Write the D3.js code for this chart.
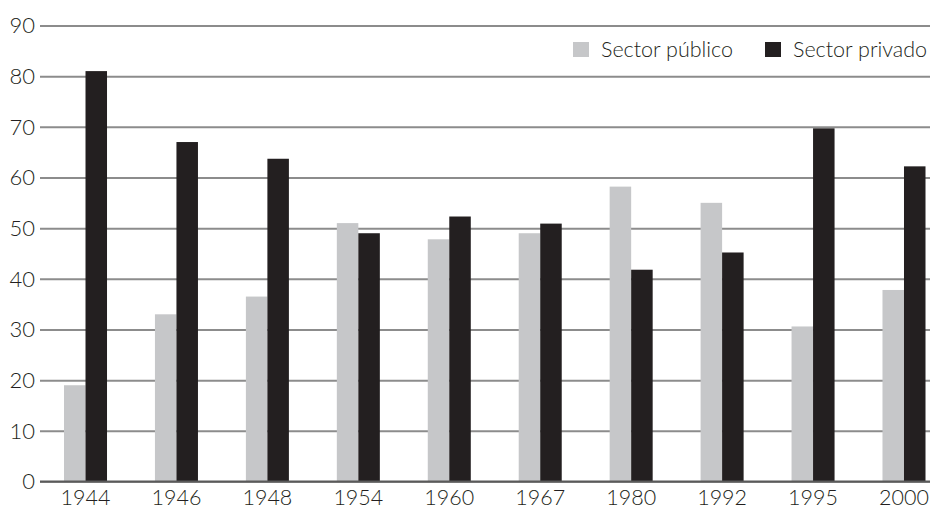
<!DOCTYPE html>
<html><head><meta charset="utf-8">
<script src="https://cdn.jsdelivr.net/npm/d3@7/dist/d3.min.js"></script>
<style>
html,body{margin:0;padding:0;background:#fff;}
text{font-family:Lato,"DejaVu Sans",sans-serif;font-weight:300;fill:#231f20;}
</style></head>
<body>
<svg id="chart" width="930" height="510"></svg>
<script>
const years = ["1944","1946","1948","1954","1960","1967","1980","1992","1995","2000"];
const seriesNames = ["Sector público","Sector privado"];
const publico = [19, 33, 36.5, 51, 47.8, 49, 58.2, 55, 30.6, 37.8];
const privado = [81, 67, 63.7, 49, 52.3, 50.9, 41.8, 45.2, 69.7, 62.2];
const yTicks = [0,10,20,30,40,50,60,70,80,90];
const colors = ["#c6c7c9", "#231f20"];

const svg = d3.select("#chart");
const y = d3.scaleLinear().domain([0,90]).range([481.5,25.5]);
const x = d3.scaleBand().domain(years).range([64, 925.5]).paddingInner(0.527).paddingOuter(0);
const xs = d3.scaleBand().domain(seriesNames).range([0, x.bandwidth()]);

// gridlines
const yAxis = d3.axisLeft(y).tickValues(yTicks).tickSize(-890).tickPadding(5);
const gy = svg.append("g").attr("transform","translate(40,0)").call(yAxis);
gy.select(".domain").remove();
gy.selectAll(".tick line").attr("stroke","#8c8c8c").attr("stroke-width",2);
gy.selectAll(".tick text").attr("font-size",22).attr("x",-5).attr("dy","0.34em")
  .style("font-family","Lato, sans-serif").style("font-weight",300).attr("fill","#231f20");

const data = years.map((yr,i)=>({year:yr, vals:[publico[i], privado[i]]}));
const groups = svg.append("g").selectAll("g").data(data).join("g")
  .attr("transform", d=>`translate(${x(d.year)},0)`);
groups.selectAll("rect").data(d=>d.vals.map((v,j)=>({v, s:seriesNames[j], j})))
  .join("rect")
  .attr("x", d=>xs(d.s))
  .attr("width", xs.bandwidth())
  .attr("y", d=>y(d.v))
  .attr("height", d=>y(0)-y(d.v))
  .attr("fill", d=>colors[d.j]);

// baseline
svg.append("line").attr("x1",40).attr("x2",930).attr("y1",y(0)).attr("y2",y(0))
  .attr("stroke","#5a5a5a").attr("stroke-width",2);

// x axis labels
const xAxis = d3.axisBottom(x).tickSize(0).tickPadding(0);
const gx = svg.append("g").attr("transform",`translate(0,${y(0)})`).call(xAxis);
gx.select(".domain").remove();
gx.selectAll(".tick text").attr("font-size",21.5).attr("y",23).attr("dy","0")
  .style("font-family","Lato, sans-serif").style("font-weight",300).attr("fill","#231f20");

// legend
const legX = [573, 765];
const leg = svg.append("g").selectAll("g").data(seriesNames).join("g")
  .attr("transform",(d,i)=>`translate(${legX[i]},42)`);
leg.append("rect").attr("width",16).attr("height",15).attr("fill",(d,i)=>colors[i]);
leg.append("text").attr("x",28).attr("y",15).attr("font-size",21.5).text(d=>d);
</script>
</body></html>
